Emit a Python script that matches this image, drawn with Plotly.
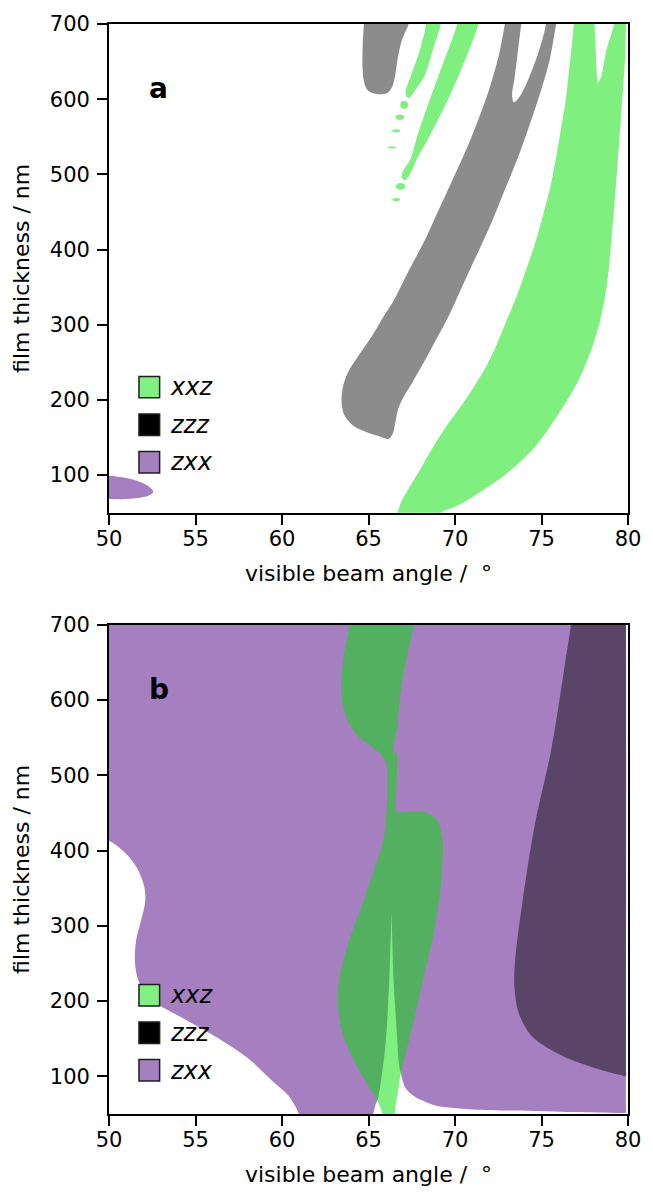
import plotly.graph_objects as go

# ---------------- data (angle in degrees, thickness in nm) ----------------
# Boundary points; points slightly outside the axis range
# only close the outlines beyond the visible area.
# Panel a
a_zxx_x = [49.5, 50.0, 51.0, 51.8, 52.3, 52.56, 52.3, 51.6, 50.9, 50.0, 49.5]
a_zxx_y = [99.5, 99, 96, 91, 85, 78, 73, 69.5, 67.8, 68.3, 68.5]

a_zzz1_x = [64.75, 64.73, 64.66, 64.66, 64.75, 64.95, 65.3, 65.7, 66.1, 66.38, 66.55, 66.7, 66.95, 67.33, 67.45]
a_zzz1_y = [712, 700, 670, 640, 622, 612, 607.5, 606.5, 608.5, 617, 633, 656, 680, 700, 712]

a_zzz2_x = [72.95, 72.88, 72.55, 72.0, 71.3, 70.5, 69.8, 69.0, 68.2, 67.4, 66.85, 66.4, 65.9, 65.2, 64.4,
            63.8, 63.5, 63.45, 63.6, 64.1, 64.9, 65.7, 66.15,
            66.4, 66.55, 66.7, 67.0, 67.5, 68.2, 68.9, 69.6, 70.3, 71.1, 72.0, 72.8, 73.6, 74.3,
            74.95, 75.45, 75.85, 75.95,
            75.2, 75.25, 74.85, 74.3, 73.75, 73.4, 73.3, 73.45, 73.64, 73.83, 73.9]
a_zzz2_y = [712, 700, 660, 615, 570, 525, 490, 450, 410, 375, 350, 330, 312, 285, 258,
            236, 215, 195, 180, 166, 157, 151, 148,
            155, 170, 187, 203, 222, 250, 280, 310, 345, 385, 430, 475, 520, 565,
            610, 650, 700, 712,
            712, 700, 664, 630, 604, 596, 605, 629, 664, 700, 712]

a_xxz1_x = [68.35, 68.33, 67.95, 67.45, 67.15, 67.2, 67.35, 67.7, 68.24, 68.7, 69.18, 69.22]
a_xxz1_y = [712, 700, 664, 631, 611, 603, 602, 612, 631, 664, 700, 712]

a_xxz2_x = [70.2, 70.13, 69.22, 68.52, 67.86, 67.39, 67.0, 66.92, 67.1, 67.39, 67.76, 68.6, 69.56, 70.41, 71.36, 71.42]
a_xxz2_y = [712, 700, 642, 598, 554, 518.5, 505, 496, 492, 500, 518.5, 554, 598, 642, 700, 712]

a_xxz3_x = [66.55, 66.67, 66.9, 67.26, 68.0, 68.7, 69.5, 70.35, 71.1, 71.77, 72.4, 72.95, 73.6, 74.14, 74.65,
            75.09, 75.5, 75.8, 76.1, 76.39, 76.65, 76.87, 76.9,
            78.05, 78.07, 78.15, 78.27, 78.45, 78.75, 79.2, 79.25,
            79.88, 79.88, 79.83, 79.6, 79.36, 79.09, 78.73, 78.13, 77.19, 76.0, 74.6, 72.93, 71.02, 70.0, 69.26, 68.9]
a_xxz3_y = [40, 50, 65, 80, 108, 136, 165, 192, 218, 243, 273, 304, 340, 375, 410,
            446, 482, 517, 557, 598, 650, 700, 712,
            712, 700, 660, 622, 630, 665, 700, 712,
            712, 700, 654, 578, 502, 426, 345, 284, 228.5, 182, 137, 101, 71, 58, 51, 40]

# isolated xxz droplets in panel a: centre angle, centre thickness, width (deg), height (nm)
bead_cx = [67.06, 66.82, 66.6, 66.35, 66.85, 66.6]
bead_cy = [592.7, 576, 558, 535.8, 484, 466.5]
bead_w = [0.45, 0.5, 0.45, 0.5, 0.55, 0.45]
bead_h = [10.6, 7, 4, 2.5, 9, 4]

# Panel b
b_zxx_x = [49.0, 79.86, 79.88, 79.88, 79.88, 79.83, 77.0, 74.6, 71.06, 68.92, 68.05, 67.5, 67.1, 66.88, 66.76,
           66.63, 66.45, 66.36, 66.34, 66.3, 66.2, 65.97, 65.56, 65.4, 65.1,
           61.0, 60.98, 60.39, 59.44, 58.0, 56.36, 54.46, 52.56, 51.73, 51.5, 51.57, 51.85, 52.09, 52.04,
           51.6, 50.9, 50.0, 49.0]
b_zxx_y = [715, 715, 705, 60, 52, 51.5, 52.5, 54, 56, 61, 68.5, 76, 86, 103, 116,
           161, 227, 293, 316, 293, 227, 139, 72, 62, 45,
           45, 50, 74, 94, 124.7, 150, 175, 200.5, 225.8, 251, 281, 306.7, 332, 352,
           377.5, 397.7, 413, 420]

b_xxz_x = [63.95, 63.9, 63.59, 63.42, 63.5, 63.85, 64.4, 65.13, 65.7, 66.0, 66.08, 66.08, 66.03, 65.85, 65.4,
           64.64, 64.1, 63.7, 63.35, 63.22, 63.4, 64.07, 64.92, 65.5, 65.78, 65.85,
           66.55, 66.53, 66.7, 66.9, 67.48, 68.14, 68.8, 69.18, 69.28, 69.0, 68.43, 67.5, 66.63,
           66.62, 66.65, 66.6, 66.45, 66.5, 66.67, 66.74, 66.9, 67.15, 67.62, 67.65]
b_xxz_y = [715, 700, 660, 620, 595, 570, 552, 539, 528, 518, 505, 484, 443, 413, 380,
           328.5, 295, 267, 235, 205, 165, 125, 90, 68.5, 52.5, 40,
           40, 52.5, 80, 108, 161, 227, 293, 354.5, 413, 439, 450, 452, 452,
           484, 520, 532, 528, 545, 564, 585, 620, 650, 700, 715]

b_zzz_x = [76.75, 76.7, 76.27, 75.56, 74.6, 73.9, 73.48, 73.43, 73.67, 74.38, 75.56, 76.98, 78.65, 79.6,
           79.88, 79.88, 79.88, 79.88]
b_zzz_y = [715, 700, 635, 534, 433, 332, 256, 220.7, 185, 155, 135, 119.6, 107, 101.5,
           100.4, 110, 700, 715]

x_ticks = [50, 55, 60, 65, 70, 75, 80]
y_ticks = [100, 200, 300, 400, 500, 600, 700]
legend_labels = ["xxz", "zzz", "zxx"]
panel_labels = ["a", "b"]

# ---------------- styling ----------------
GREEN = "rgba(0,225,0,0.5)"
BLACK = "rgba(0,0,0,0.45)"
PURPLE = "rgba(75,0,130,0.5)"
FONT = "DejaVu Sans"

W, H = 653, 1195
L, R, T, B = 109, 16, 23, 78
PW, PH = W - L - R, H - T - B


def px(x):
    return (x - L) / PW


def py(y):
    return (H - B - y) / PH


fig = go.Figure()


def poly(xs, ys, color, ax):
    fig.add_trace(go.Scatter(x=xs, y=ys, mode="lines", fill="toself", fillcolor=color,
                             line=dict(width=0, color=color, shape="spline", smoothing=0.9),
                             hoverinfo="skip", showlegend=False,
                             xaxis="x" if ax == 1 else "x2",
                             yaxis="y" if ax == 1 else "y2"))


# panel a
poly(a_zxx_x, a_zxx_y, PURPLE, 1)
poly(a_zzz1_x, a_zzz1_y, BLACK, 1)
poly(a_zzz2_x, a_zzz2_y, BLACK, 1)
poly(a_xxz1_x, a_xxz1_y, GREEN, 1)
poly(a_xxz2_x, a_xxz2_y, GREEN, 1)
poly(a_xxz3_x, a_xxz3_y, GREEN, 1)
for cx, cy, w, h in zip(bead_cx, bead_cy, bead_w, bead_h):
    fig.add_shape(type="circle", xref="x", yref="y", x0=cx - w / 2, x1=cx + w / 2,
                  y0=cy - h / 2, y1=cy + h / 2, fillcolor=GREEN, line=dict(width=0), layer="above")

# panel b
poly(b_zxx_x, b_zxx_y, PURPLE, 2)
poly(b_xxz_x, b_xxz_y, GREEN, 2)
poly(b_zzz_x, b_zzz_y, BLACK, 2)

axis_common = dict(showline=True, linecolor="black", linewidth=1.7, mirror=True,
                   ticks="outside", ticklen=10, tickwidth=1.7, tickcolor="black",
                   showgrid=False, zeroline=False,
                   tickfont=dict(family=FONT, size=21, color="black"))

xtitle = dict(text="visible beam angle /  °", standoff=16, font=dict(family=FONT, size=22))
ytitle = dict(text="film thickness / nm", standoff=14, font=dict(family=FONT, size=22))

fig.update_layout(
    width=W, height=H, margin=dict(l=L, r=R, t=T, b=B),
    paper_bgcolor="white", plot_bgcolor="white", showlegend=False,
    font=dict(family=FONT, size=21, color="black"),
    xaxis=dict(range=[50, 80], tickvals=x_ticks, domain=[0, 1], anchor="y",
               title=xtitle, ticklabelstandoff=-4, **axis_common),
    yaxis=dict(range=[50, 700], tickvals=y_ticks, domain=[py(513.5), 1], anchor="x",
               title=ytitle, ticklabelstandoff=3, **axis_common),
    xaxis2=dict(range=[50, 80], tickvals=x_ticks, domain=[0, 1], anchor="y2",
                title=xtitle, ticklabelstandoff=-4, **axis_common),
    yaxis2=dict(range=[50, 700], tickvals=y_ticks, domain=[0, py(626)], anchor="x2",
                title=ytitle, ticklabelstandoff=3, **axis_common),
)

# legends (drawn per panel) and panel labels
legend_faces = ["rgb(128,240,128)", "black", "rgb(165,128,192)"]
for top, label, lab_y in [(376.7, panel_labels[0], 88), (987.0, panel_labels[1], 691)]:
    for i, (name, face) in enumerate(zip(legend_labels, legend_faces)):
        y0 = top + i * 37.7
        fig.add_shape(type="rect", xref="paper", yref="paper", x0=px(139.5), x1=px(160.5),
                      y0=py(y0 + 21.5), y1=py(y0), fillcolor=face,
                      line=dict(color="rgb(30,30,30)", width=1.5), layer="above")
        fig.add_annotation(xref="paper", yref="paper", x=px(169), y=py(y0 + 11),
                           text="<i>" + name + "</i>", showarrow=False, xanchor="left",
                           yanchor="middle", font=dict(family=FONT, size=24, color="black"))
    fig.add_annotation(xref="paper", yref="paper", x=px(148), y=py(lab_y),
                       text="<b>" + label + "</b>", showarrow=False, xanchor="left",
                       yanchor="middle", font=dict(family=FONT, size=28, color="black"))

fig.write_html("out.html")
